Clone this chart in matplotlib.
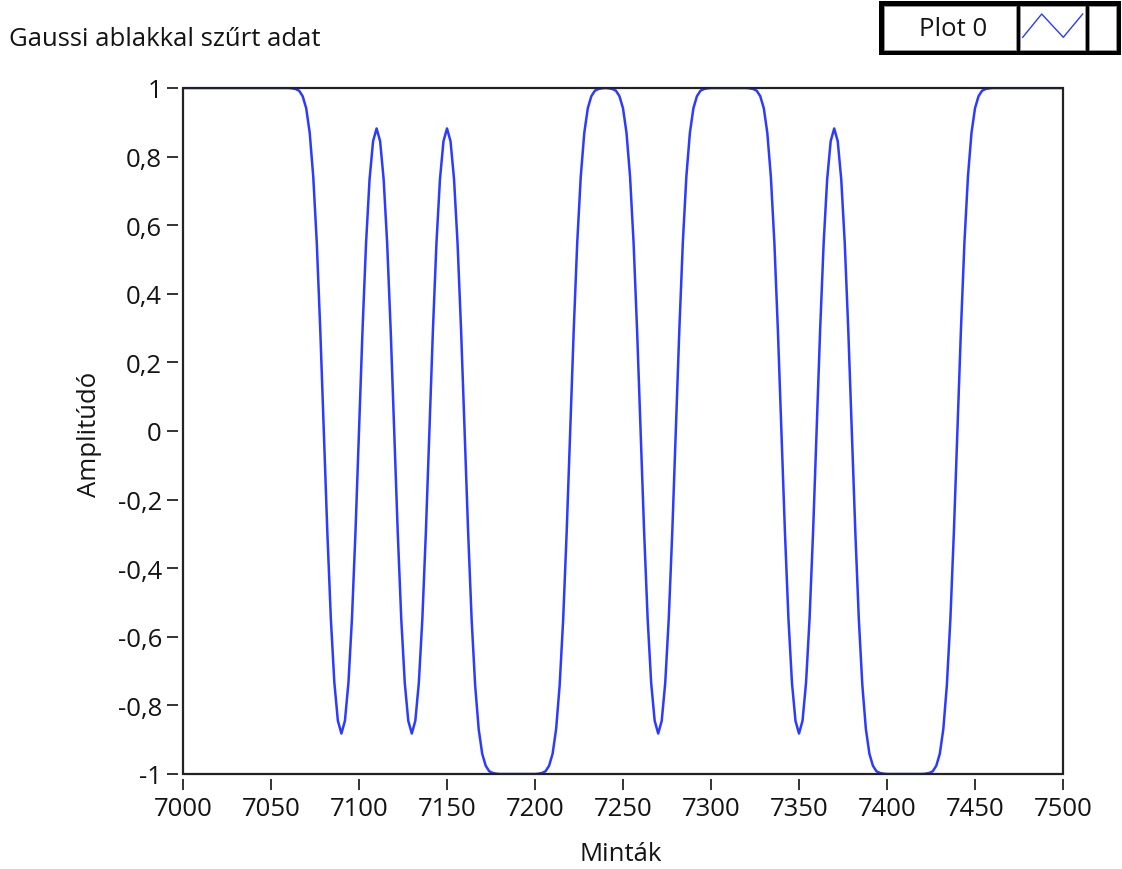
import numpy as np
import matplotlib
matplotlib.use("Agg")
import matplotlib.pyplot as plt
from matplotlib.patches import Rectangle
from matplotlib.lines import Line2D

# ---- data (waveform: start sample, sample spacing, amplitude values) ----
t0 = 7000
dt = 2
amplitude = [
    # 7000 - 7060
    1.0, 1.0, 1.0, 1.0, 1.0, 1.0, 1.0, 1.0, 1.0, 1.0, 1.0, 1.0, 1.0, 1.0, 1.0, 1.0,
    1.0, 1.0, 1.0, 1.0, 1.0, 1.0, 1.0, 1.0, 1.0, 1.0, 1.0, 1.0, 1.0, 1.0, 1.0,
    # 7062 - 7080
    0.999, 0.997, 0.992, 0.976, 0.941, 0.869, 0.742, 0.550, 0.294, 0.0,
    # 7082 - 7100
    -0.294, -0.547, -0.734, -0.845, -0.882, -0.845, -0.734, -0.547, -0.294, 0.0,
    # 7102 - 7120
    0.294, 0.547, 0.734, 0.845, 0.882, 0.845, 0.734, 0.547, 0.294, 0.0,
    # 7122 - 7140
    -0.294, -0.547, -0.734, -0.845, -0.882, -0.845, -0.734, -0.547, -0.294, 0.0,
    # 7142 - 7160
    0.294, 0.547, 0.734, 0.845, 0.882, 0.845, 0.734, 0.547, 0.294, 0.0,
    # 7162 - 7178
    -0.294, -0.550, -0.742, -0.869, -0.941, -0.976, -0.992, -0.997, -0.999,
    # 7180 - 7200
    -1.0, -1.0, -1.0, -1.0, -1.0, -1.0, -1.0, -1.0, -1.0, -1.0, -1.0,
    # 7202 - 7220
    -0.999, -0.997, -0.992, -0.976, -0.941, -0.869, -0.742, -0.550, -0.294, 0.0,
    # 7222 - 7240
    0.294, 0.550, 0.742, 0.869, 0.941, 0.976, 0.992, 0.997, 0.999, 1.0,
    # 7242 - 7260
    0.999, 0.997, 0.992, 0.976, 0.941, 0.869, 0.742, 0.550, 0.294, 0.0,
    # 7262 - 7280
    -0.294, -0.547, -0.734, -0.845, -0.882, -0.845, -0.734, -0.547, -0.294, 0.0,
    # 7282 - 7298
    0.294, 0.550, 0.742, 0.869, 0.941, 0.976, 0.992, 0.997, 0.999,
    # 7300 - 7320
    1.0, 1.0, 1.0, 1.0, 1.0, 1.0, 1.0, 1.0, 1.0, 1.0, 1.0,
    # 7322 - 7340
    0.999, 0.997, 0.992, 0.976, 0.941, 0.869, 0.742, 0.550, 0.294, 0.0,
    # 7342 - 7360
    -0.294, -0.547, -0.734, -0.845, -0.882, -0.845, -0.734, -0.547, -0.294, 0.0,
    # 7362 - 7380
    0.294, 0.547, 0.734, 0.845, 0.882, 0.845, 0.734, 0.547, 0.294, 0.0,
    # 7382 - 7398
    -0.294, -0.550, -0.742, -0.869, -0.941, -0.976, -0.992, -0.997, -0.999,
    # 7400 - 7420
    -1.0, -1.0, -1.0, -1.0, -1.0, -1.0, -1.0, -1.0, -1.0, -1.0, -1.0,
    # 7422 - 7440
    -0.999, -0.997, -0.992, -0.976, -0.941, -0.869, -0.742, -0.550, -0.294, 0.0,
    # 7442 - 7458
    0.294, 0.550, 0.742, 0.869, 0.941, 0.976, 0.992, 0.997, 0.999,
    # 7460 - 7500
    1.0, 1.0, 1.0, 1.0, 1.0, 1.0, 1.0, 1.0, 1.0, 1.0, 1.0,
    1.0, 1.0, 1.0, 1.0, 1.0, 1.0, 1.0, 1.0, 1.0, 1.0,
]

x_ticks = [7000, 7050, 7100, 7150, 7200, 7250, 7300, 7350, 7400, 7450, 7500]
x_tick_labels = ['7000', '7050', '7100', '7150', '7200', '7250',
                 '7300', '7350', '7400', '7450', '7500']
y_ticks = [-1, -0.8, -0.6, -0.4, -0.2, 0, 0.2, 0.4, 0.6, 0.8, 1]
y_tick_labels = ['-1', '-0,8', '-0,6', '-0,4', '-0,2', '0',
                 '0,2', '0,4', '0,6', '0,8', '1']

title_text = 'Gaussi ablakkal szűrt adat'
x_label = 'Minták'
y_label = 'Amplitúdó'
legend_label = 'Plot 0'

# ---- styling ----
plt.rcParams['font.family'] = ['Open Sans', 'DejaVu Sans']
LINE_COLOR = '#2b3bff'
TEXT_COLOR = '#141414'
FS = 18.5

W, H = 1122, 870
fig = plt.figure(figsize=(W / 100, H / 100), dpi=100)
fig.patch.set_facecolor('white')


def fx(px):
    return px / W


def fy(py):
    return 1 - py / H


L, R, T, B = 183, 1063, 89, 775
ax = fig.add_axes([fx(L), fy(B), (R - L) / W, (B - T) / H])

x = t0 + dt * np.arange(len(amplitude))
ax.plot(x, amplitude, color=LINE_COLOR, lw=1.8, zorder=3)

ax.set_xlim(7000, 7500)
ax.set_ylim(-1, 1)
ax.set_xticks(x_ticks, x_tick_labels)
ax.set_yticks(y_ticks, y_tick_labels)

for s in ax.spines.values():
    s.set_visible(False)
ax.spines['left'].set_position(('outward', 3.6))
ax.spines['bottom'].set_position(('outward', 3.6))
ax.add_patch(Rectangle((0, 0), 1, 1, transform=ax.transAxes, fill=False,
                       ec='#222222', lw=1.6, clip_on=False, zorder=5))

ax.tick_params(axis='both', direction='out', length=8, width=1.4,
               color='#333333', labelsize=FS, labelcolor=TEXT_COLOR)
ax.tick_params(axis='y', pad=3.6)
ax.tick_params(axis='x', pad=4.5)

ax.set_xlabel(x_label, fontsize=FS, color=TEXT_COLOR)
ax.set_ylabel(y_label, fontsize=FS, color=TEXT_COLOR)
ax.xaxis.set_label_coords(0.497, -0.097)
ax.yaxis.set_label_coords(-0.092, 0.497)

fig.text(fx(9), fy(40), title_text, ha='left', va='center',
         fontsize=FS, color=TEXT_COLOR)

# ---- legend box (LabVIEW style) ----
fig.add_artist(Rectangle((fx(879), fy(56)), (1121 - 879) / W, 54 / H,
                         transform=fig.transFigure, fc='black', ec='none'))
for (x0, x1) in [(884, 1016), (1020, 1085), (1089, 1116)]:
    fig.add_artist(Rectangle((fx(x0), fy(51)), (x1 - x0) / W, 44 / H,
                             transform=fig.transFigure, fc='white',
                             ec='#9a9a9a', lw=0.6))
fig.text(fx(953), fy(30), legend_label, ha='center', va='center',
         fontsize=FS, color=TEXT_COLOR)
fig.add_artist(Line2D([fx(1022.7), fx(1041.7), fx(1063.3), fx(1082.7)],
                      [fy(38.3), fy(15), fy(38.3), fy(15)],
                      transform=fig.transFigure, color=LINE_COLOR, lw=1.0))

fig.savefig('out.png', dpi=100, facecolor='white')
